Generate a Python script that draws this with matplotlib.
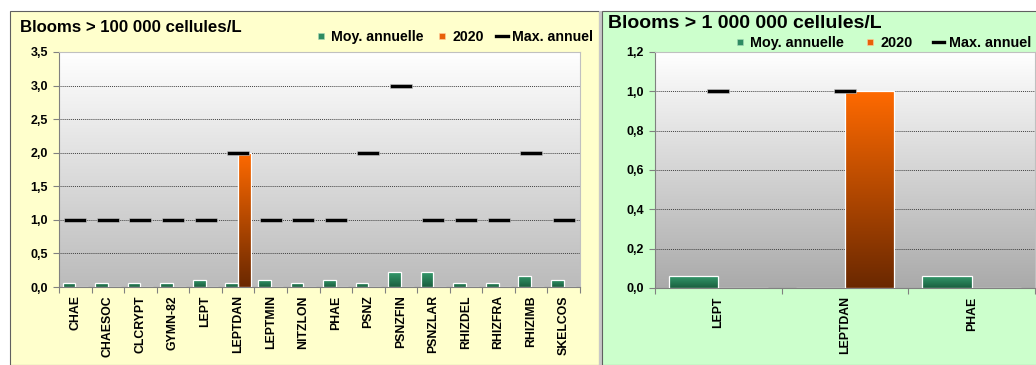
import numpy as np
import matplotlib
matplotlib.use('Agg')
import matplotlib.pyplot as plt
from matplotlib.colors import LinearSegmentedColormap
from matplotlib.lines import Line2D
from matplotlib.patches import Rectangle

plt.rcParams['font.family'] = ['Liberation Sans', 'DejaVu Sans']
plt.rcParams['font.weight'] = 'bold'

# --- data ---
cats_100k = ['CHAE', 'CHAESOC', 'CLCRYPT', 'GYMN-82', 'LEPT', 'LEPTDAN', 'LEPTMIN', 'NITZLON',
             'PHAE', 'PSNZ', 'PSNZFIN', 'PSNZLAR', 'RHIZDEL', 'RHIZFRA', 'RHIZIMB', 'SKELCOS']
moy_100k = [0.06, 0.06, 0.06, 0.06, 0.11, 0.06, 0.11, 0.06, 0.11, 0.06, 0.22, 0.22, 0.06, 0.06, 0.17, 0.11]
y2020_100k = [0, 0, 0, 0, 0, 2.0, 0, 0, 0, 0, 0, 0, 0, 0, 0, 0]
max_100k = [1, 1, 1, 1, 1, 2, 1, 1, 1, 2, 3, 1, 1, 1, 2, 1]

cats_1m = ['LEPT', 'LEPTDAN', 'PHAE']
moy_1m = [0.06, 0, 0.06]
y2020_1m = [0, 1.0, 0]
max_1m = [1, 1, np.nan]

W, H = 1036, 365
GREEN_TOP, GREEN_BOT = '#33996B', '#1B5E3E'
ORANGE_TOP, ORANGE_BOT = '#FF6A00', '#6A2800'

def fx(px): return px / W
def fy(py): return 1 - py / H

fig = plt.figure(figsize=(W / 100, H / 100), dpi=100)

# panel backgrounds (behind the axes)
for r in [Rectangle((fx(10), 0), fx(589), fy(11), facecolor='#FFFFCC', edgecolor='#606060', lw=0.8),
          Rectangle((fx(599), 0), fx(3), fy(11), facecolor='#C8C8C8', edgecolor='none'),
          Rectangle((fx(602), 0), fx(440), fy(11), facecolor='#CCFFCC', edgecolor='#606060', lw=0.8)]:
    r.set_transform(fig.transFigure)
    r.set_zorder(-5)
    fig.patches.append(r)

# dash marker for the yearly max
dash = [(-1, -0.23), (1, -0.23), (1, 0.23), (-1, 0.23), (-1, -0.23)]


def grad_bars(ax, xs, vals, width, ctop, cbot):
    cmap = LinearSegmentedColormap.from_list('g', [cbot, ctop])
    g = np.linspace(1, 0, 256).reshape(-1, 1)
    bars = ax.bar(xs, vals, width, color=ctop, edgecolor='none', zorder=3)
    for b in bars:
        if b.get_height() <= 0:
            continue
        x0, y0 = b.get_x(), b.get_y()
        im = ax.imshow(g, cmap=cmap, extent=(x0, x0 + b.get_width(), y0, y0 + b.get_height()),
                       aspect='auto', zorder=3.1, interpolation='bilinear')
        im.set_clip_path(b)
    ax.bar(xs, vals, width, fill=False, edgecolor='white', lw=0.9, zorder=3.2)


def draw_panel(ax, cats, moy, y2020, mx, ymax, step, bottom_gray):
    n = len(cats)
    x = np.arange(n)
    bw = 0.39
    # gradient background of plot area
    bg = LinearSegmentedColormap.from_list('bg', [bottom_gray, '#FFFFFF'])
    ax.imshow(np.linspace(1, 0, 256).reshape(-1, 1), cmap=bg, extent=(0, 1, 0, 1),
              transform=ax.transAxes, aspect='auto', zorder=0)
    grad_bars(ax, x - bw / 2, moy, bw, GREEN_TOP, GREEN_BOT)
    grad_bars(ax, x + bw / 2, y2020, bw, ORANGE_TOP, ORANGE_BOT)
    ax.plot(x, mx, ls='none', marker=dash, markersize=15.5, color='black',
            markeredgecolor='#D0D0D0', markeredgewidth=0.4, zorder=4)

    ax.set_xlim(-0.5, n - 0.5)
    ax.set_ylim(0, ymax)
    yt = np.arange(0, ymax + step / 2, step)
    ax.set_yticks(yt)
    ax.set_yticklabels([('%.1f' % v).replace('.', ',') for v in yt], fontsize=9)
    ax.yaxis.grid(True, linestyle=(0, (1, 1)), color='#404040', lw=0.7)
    ax.set_axisbelow(True)
    ax.tick_params(axis='y', length=4, width=0.8, color='#808080', pad=4)

    ax.set_xticks(np.arange(-0.5, n, 1.0))
    ax.set_xticklabels([])
    ax.set_xticks(x, minor=True)
    ax.set_xticklabels(cats, minor=True, rotation=90, fontsize=8.8, va='top')
    ax.tick_params(axis='x', which='major', length=4, width=0.8, color='#808080', direction='out')
    ax.tick_params(axis='x', which='minor', length=0, pad=6)

    ax.spines['left'].set_color('#808080')
    ax.spines['bottom'].set_color('#808080')
    ax.spines['top'].set_color('#C0C0C0')
    ax.spines['right'].set_color('#C0C0C0')
    for s in ax.spines.values():
        s.set_linewidth(0.8)


def add_legend(xright, ycenter, fs, colsp):
    handles = [Line2D([], [], ls='none', marker='s', markersize=3.8, color='#2E8B62',
                      markeredgecolor='#A8D8B8', markeredgewidth=0.4),
               Line2D([], [], ls='none', marker='s', markersize=3.8, color='#E8600A',
                      markeredgecolor='#FFD0A0', markeredgewidth=0.4),
               Line2D([], [], color='black', lw=2.4)]
    fig.legend(handles, ['Moy. annuelle', '2020', 'Max. annuel'], loc='center right',
               bbox_to_anchor=(fx(xright), fy(ycenter)), ncol=3, frameon=False,
               fontsize=fs, handlelength=0.8, handletextpad=0.3, columnspacing=colsp,
               borderpad=0, borderaxespad=0)


ax1 = fig.add_axes([fx(59), fy(287), fx(521), 235 / H])
draw_panel(ax1, cats_100k, moy_100k, y2020_100k, max_100k, 3.5, 0.5, '#BBBBBB')
fig.text(fx(20), fy(28), 'Blooms > 100 000 cellules/L', fontsize=12.1, va='center', ha='left')
add_legend(593, 37, 10.2, 0.9)

ax2 = fig.add_axes([fx(655), fy(288), fx(380), 236 / H])
draw_panel(ax2, cats_1m, moy_1m, y2020_1m, max_1m, 1.2, 0.2, '#AAAAAA')
fig.text(fx(608), fy(24), 'Blooms > 1 000 000 cellules/L', fontsize=14, va='center', ha='left')
add_legend(1031, 43, 10.4, 1.4)

fig.savefig('out.png', dpi=100)
